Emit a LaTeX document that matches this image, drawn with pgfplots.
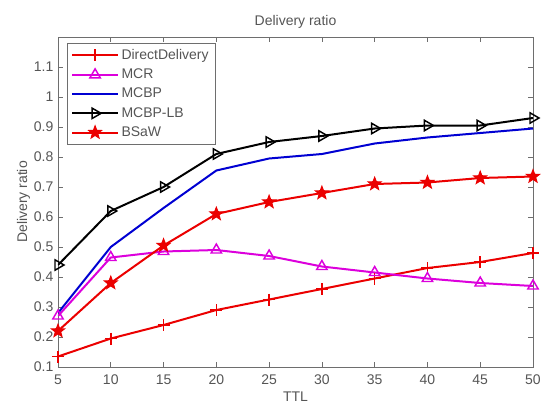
\documentclass[border=0pt]{standalone}
\usepackage{pgfplots}
\pgfplotsset{compat=1.18}
\usepackage{fontspec}
\setmainfont{Liberation Sans}
\definecolor{txt}{RGB}{85,85,85}
\definecolor{axc}{RGB}{110,110,110}
\definecolor{mred}{RGB}{235,0,0}
\definecolor{mmag}{RGB}{220,0,220}
\definecolor{mblue}{RGB}{0,0,210}
\pgfdeclareplotmark{pentagram}{%
  \pgfpathmoveto{\pgfqpointpolar{90}{\pgfplotmarksize}}%
  \pgfpathlineto{\pgfqpointpolar{126}{0.42\pgfplotmarksize}}%
  \pgfpathlineto{\pgfqpointpolar{162}{\pgfplotmarksize}}%
  \pgfpathlineto{\pgfqpointpolar{198}{0.42\pgfplotmarksize}}%
  \pgfpathlineto{\pgfqpointpolar{234}{\pgfplotmarksize}}%
  \pgfpathlineto{\pgfqpointpolar{270}{0.42\pgfplotmarksize}}%
  \pgfpathlineto{\pgfqpointpolar{306}{\pgfplotmarksize}}%
  \pgfpathlineto{\pgfqpointpolar{342}{0.42\pgfplotmarksize}}%
  \pgfpathlineto{\pgfqpointpolar{18}{\pgfplotmarksize}}%
  \pgfpathlineto{\pgfqpointpolar{54}{0.42\pgfplotmarksize}}%
  \pgfpathclose
  \pgfusepathqfillstroke}
\begin{document}
\begin{tikzpicture}
\begin{axis}[
  name=ax,
  scale only axis,
  width=356.25pt, height=247.5pt,
  xmin=5, xmax=50, ymin=0.1, ymax=1.2,
  xtick={5,10,...,50},
  ytick={0.1,0.2,0.3,0.4,0.5,0.6,0.7,0.8,0.9,1,1.1},
  yticklabels={0.1,0.2,0.3,0.4,0.5,0.6,0.7,0.8,0.9,1,1.1},
  /pgf/number format/assume math mode=true,
  tick align=inside,
  major tick length=4pt,
  tick style={axc, line width=0.5pt},
  axis line style={axc, line width=0.6pt},
  every tick label/.append style={font=\fontsize{10.5}{12}\selectfont, text=txt},
  xticklabel style={yshift=-2pt},
  title={Delivery ratio},
  title style={font=\fontsize{10.5}{12}\selectfont, text=txt, yshift=-3pt},
  xlabel={TTL},
  ylabel={Delivery ratio},
  label style={font=\fontsize{10.5}{12}\selectfont, text=txt},
  xlabel style={yshift=1.5pt},
  ylabel style={yshift=-4pt},
  legend style={anchor=north west, at={(rel axis cs:0,1)}, xshift=6.75pt, yshift=-4.5pt,
    draw=axc, line width=0.5pt, font=\fontsize{10.5}{12}\selectfont, text=txt,
    row sep=1.6pt, inner xsep=3pt, inner ysep=2.5pt},
  legend cell align=left,
  legend image code/.code={%
    \draw[mark repeat=2,mark phase=2,#1] plot coordinates {(0cm,0cm) (0.6cm,0cm) (1.2cm,0cm)};},
]
\addplot[mred, line width=1.5pt, mark=+, mark size=4.5pt, mark options={line width=1.1pt}] coordinates {
(5,0.135) (10,0.195) (15,0.24) (20,0.29) (25,0.325) (30,0.36) (35,0.395) (40,0.43) (45,0.45) (50,0.48)};
\addlegendentry{DirectDelivery}
\addplot[mmag, line width=1.5pt, mark=triangle, mark size=4.5pt, mark options={line width=1.1pt}] coordinates {
(5,0.27) (10,0.465) (15,0.485) (20,0.49) (25,0.47) (30,0.435) (35,0.415) (40,0.395) (45,0.38) (50,0.37)};
\addlegendentry{MCR}
\addplot[mblue, line width=1.5pt] coordinates {
(5,0.28) (10,0.5) (15,0.63) (20,0.755) (25,0.795) (30,0.81) (35,0.845) (40,0.865) (45,0.88) (50,0.895)};
\addlegendentry{MCBP}
\addplot[black, line width=1.5pt, mark=triangle, mark size=4.5pt, mark options={rotate=-90, line width=1.1pt}] coordinates {
(5,0.44) (10,0.62) (15,0.70) (20,0.81) (25,0.85) (30,0.87) (35,0.895) (40,0.905) (45,0.905) (50,0.93)};
\addlegendentry{MCBP-LB}
\addplot[mred, line width=1.5pt, mark=pentagram, mark size=5pt, mark options={line width=0.8pt, fill=mred}] coordinates {
(5,0.22) (10,0.38) (15,0.505) (20,0.61) (25,0.65) (30,0.68) (35,0.71) (40,0.715) (45,0.73) (50,0.735)};
\addlegendentry{BSaW}
\end{axis}
\pgfresetboundingbox
\path (ax.south west) ++(-43.5pt,-28.5pt) rectangle ++(406.5pt,303.75pt);
\end{tikzpicture}
\end{document}
